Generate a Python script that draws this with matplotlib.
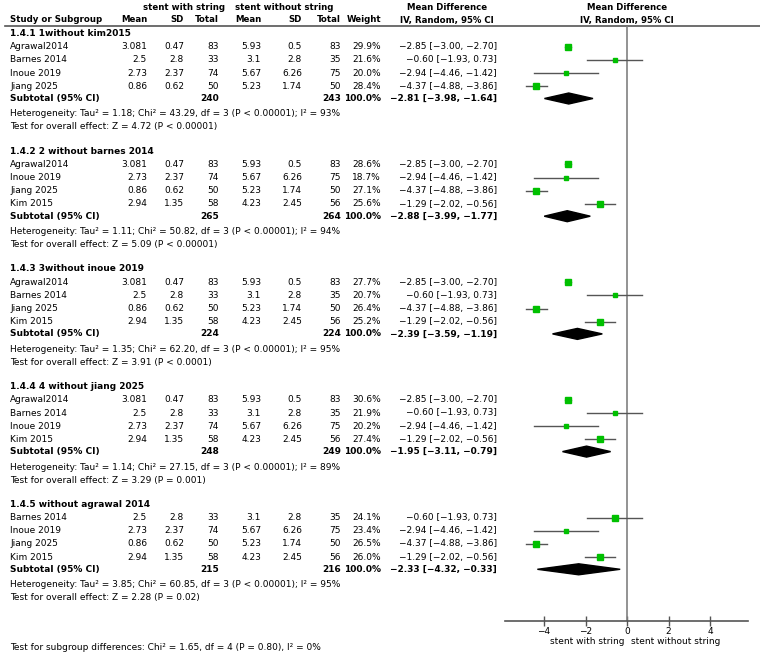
import matplotlib
matplotlib.use("Agg")
import matplotlib.pyplot as plt
from matplotlib.patches import Polygon

plt.rcParams["font.family"] = ["DejaVu Sans"]
plt.rcParams["font.size"] = 6.5

# study level data
studies = ["Agrawal2014", "Barnes 2014", "Inoue 2019", "Jiang 2025", "Kim 2015"]
mean_with = [3.081, 2.5, 2.73, 0.86, 2.94]
sd_with = [0.47, 2.8, 2.37, 0.62, 1.35]
n_with = [83, 33, 74, 50, 58]
mean_without = [5.93, 3.1, 5.67, 5.23, 4.23]
sd_without = [0.5, 2.8, 6.26, 1.74, 2.45]
n_without = [83, 35, 75, 50, 56]
md = [-2.85, -0.60, -2.94, -4.37, -1.29]
md_lo = [-3.00, -1.93, -4.46, -4.88, -2.02]
md_hi = [-2.70, 0.73, -1.42, -3.86, -0.56]

# subgroup (leave-one-out) data
subgroup_titles = [
    "1.4.1 1without kim2015",
    "1.4.2 2 without barnes 2014",
    "1.4.3 3without inoue 2019",
    "1.4.4 4 without jiang 2025",
    "1.4.5 without agrawal 2014",
]
subgroup_members = [[0, 1, 2, 3], [0, 2, 3, 4], [0, 1, 3, 4], [0, 1, 2, 4], [1, 2, 3, 4]]
subgroup_weights = [
    [29.9, 21.6, 20.0, 28.4],
    [28.6, 18.7, 27.1, 25.6],
    [27.7, 20.7, 26.4, 25.2],
    [30.6, 21.9, 20.2, 27.4],
    [24.1, 23.4, 26.5, 26.0],
]
subtotal_n_with = [240, 265, 224, 248, 215]
subtotal_n_without = [243, 264, 224, 249, 216]
subtotal_md = [-2.81, -2.88, -2.39, -1.95, -2.33]
subtotal_lo = [-3.98, -3.99, -3.59, -3.11, -4.32]
subtotal_hi = [-1.64, -1.77, -1.19, -0.79, -0.33]
tau2 = [1.18, 1.11, 1.35, 1.14, 3.85]
chi2 = [43.29, 50.82, 62.20, 27.15, 60.85]
het_df = [3, 3, 3, 3, 3]
het_p = ["P < 0.00001"] * 5
i2 = [93, 94, 95, 89, 95]
z_overall = [4.72, 5.09, 3.91, 3.29, 2.28]
p_overall = ["P < 0.00001", "P < 0.00001", "P < 0.0001", "P = 0.001", "P = 0.02"]

axis_ticks = [-4, -2, 0, 2, 4]
subgroup_diff = "Test for subgroup differences: Chi\u00b2 = 1.65, df = 4 (P = 0.80), I\u00b2 = 0%"

W, H = 760, 656
GREEN = "#00c000"
LINE = "#555555"
HEAD = 6.2  # bold header size, the original bold face runs narrower


def num(v):
    return f"{v:g}"


def ci_text(m, lo, hi):
    return f"{m:.2f} [{lo:.2f}, {hi:.2f}]".replace("-", "\u2212")


fig = plt.figure(figsize=(W / 100, H / 100), dpi=100)
ax = fig.add_axes([0, 0, 1, 1])
ax.set_xlim(0, W)
ax.set_ylim(H, 0)
ax.axis("off")

# forest panel: y in pixel rows, x in mean difference units
top_px, axis_px = 26, 621
fx0, fx1 = 505, 748
fax = fig.add_axes([fx0 / W, (H - axis_px) / H, (fx1 - fx0) / W, (axis_px - top_px) / H])
fax.set_xlim(-5.88, 5.83)
fax.set_ylim(axis_px, top_px)
fax.patch.set_alpha(0)
for s in ["top", "left", "right"]:
    fax.spines[s].set_visible(False)
fax.spines["bottom"].set_color(LINE)
fax.spines["bottom"].set_linewidth(1.2)
fax.set_yticks([])
fax.set_xticks(axis_ticks)
fax.set_xticklabels([str(t).replace("-", "\u2212") for t in axis_ticks])
fax.tick_params(axis="x", direction="inout", length=7, width=1, color=LINE,
                labelsize=6.5, pad=1)
fax.axvline(0, color="#808080", lw=1.2)

# column anchors (right edges)
cols = [147, 184, 219, 261, 302, 341, 381]
ci_x = 497
left_x = 10

# headers
ax.text(184, 7, "stent with string", ha="center", va="center", fontweight="bold", fontsize=HEAD)
ax.text(284, 7, "stent without string", ha="center", va="center", fontweight="bold", fontsize=HEAD)
ax.text(left_x, 20, "Study or Subgroup", ha="left", va="center", fontweight="bold", fontsize=HEAD)
for x, lab in zip(cols, ["Mean", "SD", "Total", "Mean", "SD", "Total", "Weight"]):
    ax.text(x, 20, lab, ha="right", va="center", fontweight="bold", fontsize=HEAD)
ax.text(447, 7, "Mean Difference", ha="center", va="center", fontweight="bold", fontsize=HEAD)
ax.text(447, 20, "IV, Random, 95% CI", ha="center", va="center", fontweight="bold", fontsize=HEAD)
ax.text(627, 7, "Mean Difference", ha="center", va="center", fontweight="bold", fontsize=HEAD)
ax.text(627, 20, "IV, Random, 95% CI", ha="center", va="center", fontweight="bold", fontsize=HEAD)
ax.plot([5, W], [26, 26], color=LINE, lw=1.2)

step = 117.7
for g, title in enumerate(subgroup_titles):
    base = 33.5 + g * step
    ax.text(left_x, base, title, ha="left", va="center", fontweight="bold")
    for k, (i, w) in enumerate(zip(subgroup_members[g], subgroup_weights[g])):
        y = base + 13.2 * (k + 1)
        vals = [num(mean_with[i]), num(sd_with[i]), str(n_with[i]),
                num(mean_without[i]), num(sd_without[i]), str(n_without[i]),
                f"{w:.1f}%"]
        ax.text(left_x, y, studies[i], ha="left", va="center")
        for x, v in zip(cols, vals):
            ax.text(x, y, v, ha="right", va="center")
        ax.text(ci_x, y, ci_text(md[i], md_lo[i], md_hi[i]), ha="right", va="center")
        fax.plot([md_lo[i], md_hi[i]], [y, y], color=LINE, lw=1, zorder=2)
        # box side grows with the study weight
        fax.plot(md[i], y, marker="s", color=GREEN, ms=0.19 * w * 0.72 * 1.1,
                 mec=GREEN, zorder=3)
    ys = base + 65
    ax.text(left_x, ys, "Subtotal (95% CI)", ha="left", va="center", fontweight="bold")
    ax.text(cols[2], ys, str(subtotal_n_with[g]), ha="right", va="center", fontweight="bold")
    ax.text(cols[5], ys, str(subtotal_n_without[g]), ha="right", va="center", fontweight="bold")
    ax.text(cols[6], ys, "100.0%", ha="right", va="center", fontweight="bold")
    ax.text(ci_x, ys, ci_text(subtotal_md[g], subtotal_lo[g], subtotal_hi[g]),
            ha="right", va="center", fontweight="bold")
    fax.add_patch(Polygon([(subtotal_lo[g], ys), (subtotal_md[g], ys - 5.5),
                           (subtotal_hi[g], ys), (subtotal_md[g], ys + 5.5)],
                          closed=True, color="black", zorder=3))
    het = (f"Heterogeneity: Tau\u00b2 = {tau2[g]:.2f}; Chi\u00b2 = {chi2[g]:.2f}, "
           f"df = {het_df[g]} ({het_p[g]}); I\u00b2 = {i2[g]}%")
    ax.text(left_x, base + 80.5, het, ha="left", va="center")
    ax.text(left_x, base + 93.5, f"Test for overall effect: Z = {z_overall[g]:.2f} ({p_overall[g]})",
            ha="left", va="center")

ax.text(625, 641, "stent with string", ha="right", va="center")
ax.text(631, 641, "stent without string", ha="left", va="center")
ax.text(left_x, 648, subgroup_diff, ha="left", va="center")

fig.savefig("out.png", dpi=100)
